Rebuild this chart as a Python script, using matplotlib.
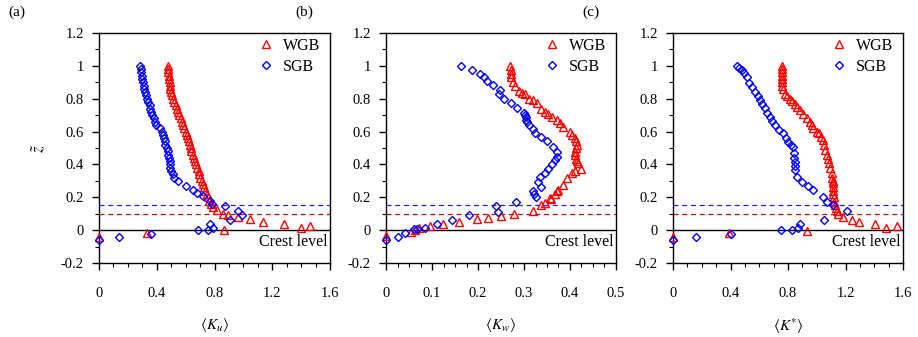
import matplotlib
matplotlib.use("Agg")
import matplotlib.pyplot as plt
from matplotlib.ticker import MultipleLocator, FuncFormatter

plt.rcParams['font.family'] = ['Liberation Serif', 'DejaVu Serif']
plt.rcParams['mathtext.fontset'] = 'stix'

# ---- panel (a): <K_u> ----
a_wgb_x = [0.48, 0.48, 0.48, 0.485, 0.485, 0.49, 0.49, 0.495, 0.50, 0.505, 0.51, 0.52, 0.53, 0.54,
           0.545, 0.555, 0.565, 0.575, 0.585, 0.59, 0.60, 0.61, 0.615, 0.62, 0.63, 0.635, 0.64, 0.65,
           0.655, 0.665, 0.675, 0.68, 0.69, 0.695, 0.70, 0.71, 0.717, 0.725, 0.735, 0.745, 0.756,
           0.765, 0.775, 0.79, 0.814, 0.86, 0.895, 0.964, 1.045, 1.137, 1.28, 1.46, 1.40, 0.865,
           0.333, 0.0]
a_wgb_z = [1.00, 0.98, 0.96, 0.94, 0.92, 0.90, 0.88, 0.86, 0.84, 0.82, 0.80, 0.78, 0.76, 0.74,
           0.72, 0.70, 0.68, 0.66, 0.64, 0.62, 0.60, 0.58, 0.56, 0.54, 0.52, 0.50, 0.48, 0.46,
           0.44, 0.42, 0.40, 0.38, 0.36, 0.34, 0.32, 0.30, 0.28, 0.26, 0.24, 0.22, 0.20,
           0.18, 0.16, 0.14, 0.12, 0.10, 0.09, 0.077, 0.065, 0.05, 0.04, 0.024, 0.01, 0.0,
           -0.016, -0.04]
a_sgb_x = [0.282, 0.29, 0.29, 0.295, 0.30, 0.305, 0.31, 0.315, 0.32, 0.325, 0.33, 0.34, 0.35, 0.355,
           0.36, 0.37, 0.38, 0.385, 0.395, 0.42, 0.435, 0.445, 0.45, 0.455, 0.46, 0.47, 0.475, 0.48,
           0.485, 0.49, 0.49, 0.495, 0.50, 0.51, 0.52, 0.545, 0.606, 0.652, 0.68, 0.72, 0.768, 0.786,
           0.872, 0.964, 0.988, 0.91, 0.77, 0.79, 0.687, 0.756, 0.363, 0.139, 0.0]
a_sgb_z = [1.00, 0.98, 0.96, 0.94, 0.92, 0.90, 0.88, 0.86, 0.84, 0.82, 0.80, 0.78, 0.76, 0.74,
           0.72, 0.70, 0.68, 0.66, 0.64, 0.62, 0.60, 0.58, 0.56, 0.54, 0.52, 0.50, 0.48, 0.46,
           0.44, 0.42, 0.40, 0.38, 0.36, 0.34, 0.32, 0.30, 0.27, 0.245, 0.225, 0.205, 0.175, 0.16,
           0.146, 0.117, 0.09, 0.06, 0.035, 0.01, 0.0, 0.0, -0.024, -0.04, -0.06]

# ---- panel (b): <K_w> ----
b_wgb_x = [0.27, 0.271, 0.272, 0.272, 0.275, 0.28, 0.29, 0.296, 0.302, 0.31, 0.32, 0.328, 0.338,
           0.345, 0.353, 0.36, 0.371, 0.378, 0.385, 0.399, 0.405, 0.411, 0.413, 0.415, 0.412, 0.411,
           0.41, 0.413, 0.415, 0.418, 0.425, 0.41, 0.404, 0.393, 0.385, 0.371, 0.375, 0.367, 0.358,
           0.357, 0.346, 0.338, 0.32, 0.278, 0.249, 0.222, 0.198, 0.159, 0.123, 0.096, 0.072,
           0.063, 0.054, 0.0]
b_wgb_z = [1.00, 0.974, 0.953, 0.933, 0.903, 0.876, 0.848, 0.835, 0.826, 0.80, 0.79, 0.775, 0.735,
           0.72, 0.704, 0.69, 0.67, 0.65, 0.629, 0.598, 0.58, 0.558, 0.54, 0.517, 0.497, 0.477,
           0.457, 0.436, 0.42, 0.406, 0.375, 0.36, 0.349, 0.315, 0.274, 0.24, 0.243, 0.219, 0.19,
           0.193, 0.166, 0.152, 0.117, 0.10, 0.087, 0.075, 0.065, 0.05, 0.04, 0.024, 0.016,
           0.0, -0.01, -0.037]
b_sgb_x = [0.162, 0.186, 0.204, 0.212, 0.219, 0.233, 0.248, 0.246, 0.257, 0.272, 0.284, 0.30,
           0.303, 0.304, 0.305, 0.307, 0.31, 0.319, 0.324, 0.338, 0.349, 0.364, 0.371, 0.372,
           0.367, 0.36, 0.353, 0.346, 0.335, 0.331, 0.338, 0.32, 0.322, 0.325, 0.283, 0.24, 0.244,
           0.181, 0.143, 0.11, 0.085, 0.067, 0.06, 0.041, 0.027, 0.0]
b_sgb_z = [1.00, 0.974, 0.95, 0.933, 0.907, 0.882, 0.856, 0.828, 0.797, 0.771, 0.741, 0.714,
           0.70, 0.69, 0.67, 0.66, 0.64, 0.613, 0.592, 0.564, 0.543, 0.507, 0.477, 0.446,
           0.426, 0.40, 0.375, 0.345, 0.324, 0.294, 0.264, 0.239, 0.223, 0.199, 0.172, 0.148, 0.11,
           0.09, 0.061, 0.04, 0.016, 0.004, 0.004, -0.02, -0.04, -0.06]

# ---- panel (c): <K*> ----
c_wgb_x = [0.756, 0.756, 0.756, 0.756, 0.756, 0.758, 0.76, 0.768, 0.779, 0.795, 0.814, 0.83, 0.849,
           0.865, 0.883, 0.905, 0.93, 0.95, 0.965, 0.976, 1.0, 1.018, 1.03, 1.041, 1.05, 1.057,
           1.07, 1.08, 1.087, 1.095, 1.104, 1.108, 1.111, 1.111, 1.113, 1.115, 1.115, 1.118, 1.12,
           1.127, 1.134, 1.14, 1.15, 1.18, 1.243, 1.296, 1.405, 1.48, 1.56, 0.93, 0.39, 0.0]
c_wgb_z = [1.00, 0.98, 0.96, 0.94, 0.92, 0.90, 0.88, 0.86, 0.83, 0.815, 0.80, 0.785, 0.77,
           0.75, 0.73, 0.705, 0.68, 0.66, 0.64, 0.619, 0.60, 0.589, 0.57, 0.548, 0.52, 0.487,
           0.46, 0.43, 0.406, 0.38, 0.345, 0.32, 0.30, 0.284, 0.26, 0.24, 0.223, 0.20, 0.172,
           0.15, 0.132, 0.115, 0.10, 0.081, 0.061, 0.047, 0.037, 0.01, 0.024, -0.004, -0.016, -0.04]
c_sgb_x = [0.443, 0.46, 0.478, 0.495, 0.513, 0.531, 0.55, 0.57, 0.59, 0.605, 0.62, 0.64, 0.655,
           0.675, 0.69, 0.71, 0.74, 0.763, 0.785, 0.802, 0.82, 0.833, 0.842, 0.845, 0.849, 0.849,
           0.849, 0.86, 0.895, 0.941, 0.976, 1.041, 1.069, 1.111, 1.213, 1.053, 0.883, 0.872,
           0.826, 0.75, 0.401, 0.16, 0.0]
c_sgb_z = [1.00, 0.987, 0.974, 0.955, 0.933, 0.893, 0.87, 0.842, 0.815, 0.791, 0.765, 0.741, 0.715,
           0.69, 0.665, 0.639, 0.61, 0.589, 0.56, 0.537, 0.52, 0.507, 0.467, 0.44, 0.416, 0.39,
           0.365, 0.324, 0.294, 0.268, 0.243, 0.203, 0.172, 0.152, 0.117, 0.061, 0.037, 0.01,
           0.0, 0.0, -0.024, -0.04, -0.057]

panels = [
    ('(a)', a_wgb_x, a_wgb_z, a_sgb_x, a_sgb_z, 1.6, 0.4, 0.1, r'$\langle K_u\rangle$'),
    ('(b)', b_wgb_x, b_wgb_z, b_sgb_x, b_sgb_z, 0.5, 0.1, 0.025, r'$\langle K_w\rangle$'),
    ('(c)', c_wgb_x, c_wgb_z, c_sgb_x, c_sgb_z, 1.6, 0.4, 0.1, r'$\langle K^{*}\rangle$'),
]
lefts = [99, 386, 673]
widths = [231, 230, 230]

fig = plt.figure(figsize=(9.18, 3.37), dpi=100)
fmt = FuncFormatter(lambda v, p: f'{v:g}' if abs(v) > 1e-9 else '0')

for i, (tag, wx, wz, sx, sz, xmax, xmaj, xmin, xlab) in enumerate(panels):
    ax = fig.add_axes([lefts[i] / 918, 1 - 263 / 337, widths[i] / 918, 230 / 337])
    ax.axhline(0, color='black', lw=1.0, zorder=1)
    ax.axhline(0.1, color='#cc0000', lw=0.9, ls=(0, (4, 3)), zorder=1)
    ax.axhline(0.155, color='#2020ff', lw=0.9, ls=(0, (4, 3)), zorder=1)
    ax.plot(wx, wz, ls='none', marker='^', ms=6, mfc='none', mec='red', mew=1.0, label='WGB',
            clip_on=False, zorder=3)
    ax.plot(sx, sz, ls='none', marker='D', ms=4.5, mfc='none', mec='blue', mew=1.0, label='SGB',
            clip_on=False, zorder=3)
    ax.set_xlim(0, xmax)
    ax.set_ylim(-0.2, 1.2)
    ax.xaxis.set_major_locator(MultipleLocator(xmaj))
    ax.xaxis.set_minor_locator(MultipleLocator(xmin))
    ax.yaxis.set_major_locator(MultipleLocator(0.2))
    ax.yaxis.set_minor_locator(MultipleLocator(0.1))
    ax.xaxis.set_major_formatter(fmt)
    ax.yaxis.set_major_formatter(fmt)
    ax.tick_params(which='major', direction='out', length=5, width=1, labelsize=10.5)
    ax.tick_params(which='minor', direction='out', length=3, width=0.8)
    ax.tick_params(axis='x', pad=12)
    ax.tick_params(axis='y', pad=6)
    for s in ax.spines.values():
        s.set_linewidth(1.0)
    ax.set_xlabel(xlab, fontsize=11, labelpad=12)
    ax.text(0.99, -0.075, 'Crest level', ha='right', va='center', fontsize=11.5,
            transform=ax.get_yaxis_transform())
    ax.legend(loc='upper right', frameon=False, fontsize=11.5, handletextpad=0.5,
              borderaxespad=0.2, handlelength=1.2, labelspacing=0.3, bbox_to_anchor=(1.0, 1.02))
    fig.text((lefts[i] - 91) / 918, 1 - 12 / 337, tag, ha='left', va='center', fontsize=11)
    if i == 0:
        ax.set_ylabel(r'$\tilde{z}$', fontsize=12, labelpad=10)

fig.savefig('out.png', dpi=100)
